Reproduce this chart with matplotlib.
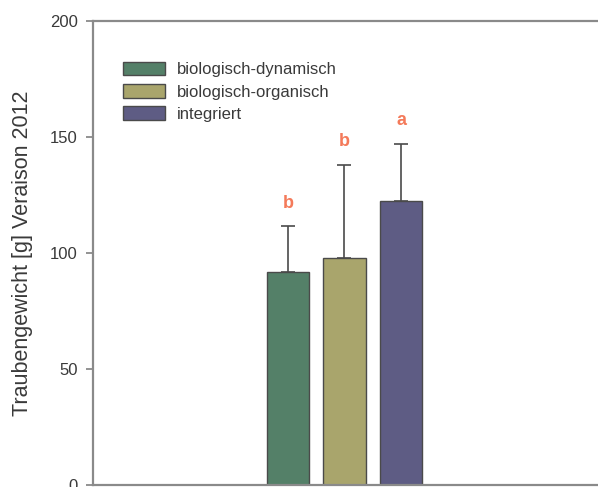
import matplotlib.pyplot as plt
from matplotlib.patches import Patch

plt.rcParams['font.family'] = ['Liberation Sans', 'DejaVu Sans']

# data
groups = ['biologisch-dynamisch', 'biologisch-organisch', 'integriert']
means = [92, 98, 122.5]
errors = [19.5, 40, 24.5]
letters = ['b', 'b', 'a']
colors = ['#548068', '#a9a56c', '#5e5c84']

fig = plt.figure(figsize=(5.98, 4.87), dpi=100)
ax = fig.add_axes([93 / 598, 2 / 487, 512 / 598, 464 / 487])

pos = [1, 2, 3]
ax.bar(pos, means, width=0.75, color=colors, edgecolor='#4a4a4a', linewidth=1.0, zorder=2)
ax.errorbar(pos, means, yerr=[[0, 0, 0], errors], fmt='none', ecolor='#4a4a4a',
            elinewidth=1.2, capsize=5, capthick=1.2, zorder=1)

for x, m, e, l in zip(pos, means, errors, letters):
    ax.text(x, m + e + 10, l, ha='center', va='center', fontsize=13,
            fontweight='bold', color='#f47a5a')

ax.set_xlim(-2.44, 6.6)
ax.set_ylim(0, 200)
ax.set_yticks([0, 50, 100, 150, 200])
ax.set_xticks([])

for s in ['left', 'top', 'bottom']:
    ax.spines[s].set_color('#8a8a8a')
    ax.spines[s].set_linewidth(1.6)
ax.spines['right'].set_visible(False)
ax.tick_params(axis='y', direction='out', length=5, width=1.3, color='#8a8a8a',
               labelsize=12, labelcolor='#3a3a3a', pad=6)

ax.set_ylabel('Traubengewicht [g] Veraison 2012', fontsize=15.5, color='#3a3a3a', labelpad=12)

handles = [Patch(facecolor=c, edgecolor='#4a4a4a', linewidth=1.0) for c in colors]
ax.legend(handles, groups, loc='upper left', bbox_to_anchor=(0.03, 0.945),
          frameon=False, fontsize=12, handlelength=2.5, handleheight=0.9,
          labelspacing=0.4, handletextpad=0.7, labelcolor='#3a3a3a')

fig.savefig('out.png', dpi=100)
